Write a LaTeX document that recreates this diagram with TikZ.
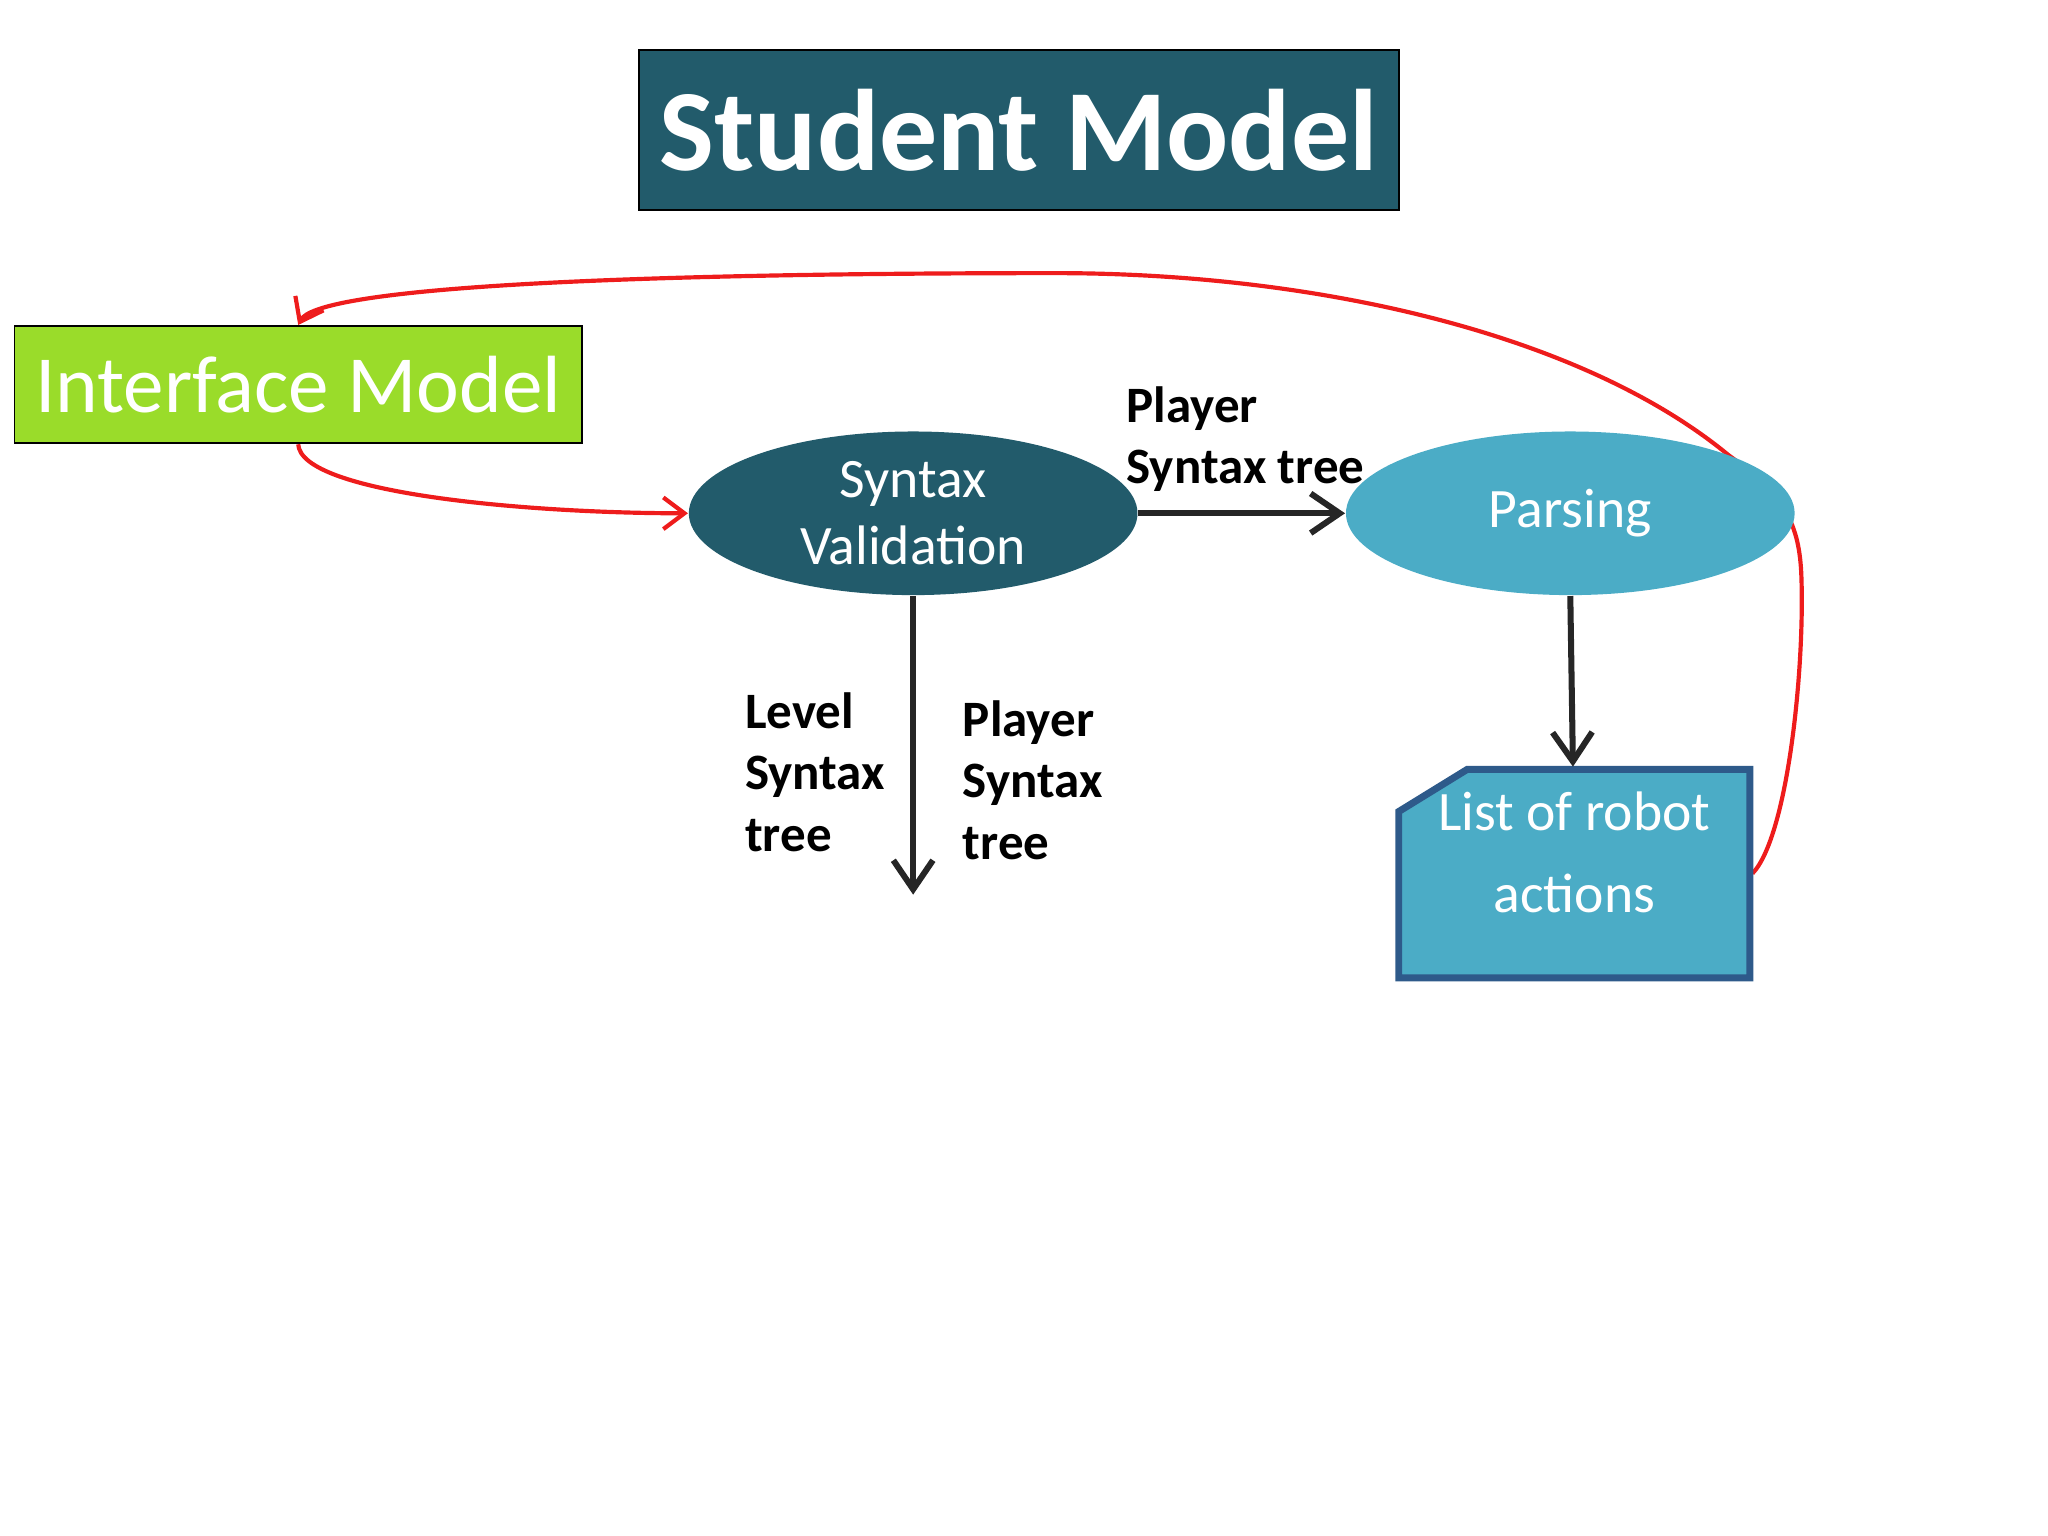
\documentclass[tikz,border=0pt]{standalone}
\usepackage{fontspec}
\setmainfont{Carlito}
\usetikzlibrary{shapes.geometric,arrows.meta}
\pgfdeclarelayer{bg}
\pgfsetlayers{bg,main}
\definecolor{teal}{HTML}{225B6B}
\definecolor{lgreen}{HTML}{9ADC2A}
\definecolor{lblue}{HTML}{4BACC6}
\definecolor{dblue}{HTML}{2E5A8A}
\definecolor{lred}{HTML}{EE1C1C}
\tikzset{
  ell/.style={ellipse, inner sep=0pt, minimum width=3.4cm, minimum height=1.24cm, text=white, font=\fontsize{12}{14.5}\selectfont, align=center},
  lbl/.style={font=\bfseries\fontsize{11}{13.3}\selectfont, align=left, anchor=north west, inner sep=0pt},
  flow/.style={-{Straight Barb[length=2.2mm,width=3mm]}, line width=1.3pt, draw=black!85},
  back/.style={-{Straight Barb[length=1.6mm,width=2.4mm]}, lred, line width=0.9pt}
}
\begin{document}
\begin{tikzpicture}
\useasboundingbox (0,0) rectangle (15.52,11.64);
\node[draw=black, fill=teal, text=white, minimum width=5.76cm, minimum height=1.21cm, font=\bfseries\fontsize{25}{28}\selectfont] (title) at (7.72,10.655) {Student Model};
\node[draw=black, fill=lgreen, text=white, minimum width=4.3cm, minimum height=0.89cm, font=\fontsize{17.5}{20}\selectfont] (iface) at (2.26,8.725) {Interface Model};
\node[ell, fill=teal] (valid) at (6.92,7.75) {Syntax\\Validation};
\node[ell, fill=lblue] (parse) at (11.90,7.75) {Parsing};
\draw[draw=dblue, line width=1.5pt, fill=lblue] (11.12,5.81) -- (13.26,5.81) -- (13.26,4.23) -- (10.60,4.23) -- (10.60,5.49) -- cycle;
\node[text=white, font=\fontsize{12}{17.5}\selectfont, align=center] (list) at (11.93,5.18) {List of robot\\actions};
\coordinate (listtop) at (11.92,5.83);
\coordinate (listright) at (13.28,5.02);
\coordinate (down) at (6.92,4.86);
% black arrows
\draw[flow] (valid.east) -- (parse.west);
\draw[flow] (valid.south) -- (down);
\draw[flow] (parse.south) -- (listtop);
% labels
\node[lbl] (l1) at (8.53,8.72) {Player\\Syntax tree};
\node[lbl] (l2) at (5.64,6.40) {Level\\Syntax\\tree};
\node[lbl] (l3) at (7.29,6.34) {Player\\Syntax\\tree};
% red feedback
\begin{pgfonlayer}{bg}
\draw[back] (iface.south) .. controls (2.28,7.9) and (4,7.75) .. (valid.west);
\draw[back] (listright) .. controls (13.55,5.3) and (13.68,6.6) .. (13.65,7.3)
  .. controls (13.63,7.7) and (13.5,7.9) .. (13.1,8.19)
  .. controls (12.0,9.1) and (10.0,9.57) .. (8.0,9.57)
  .. controls (4.5,9.57) and (2.4,9.45) .. (iface.north);
\end{pgfonlayer}
\end{tikzpicture}
\end{document}
